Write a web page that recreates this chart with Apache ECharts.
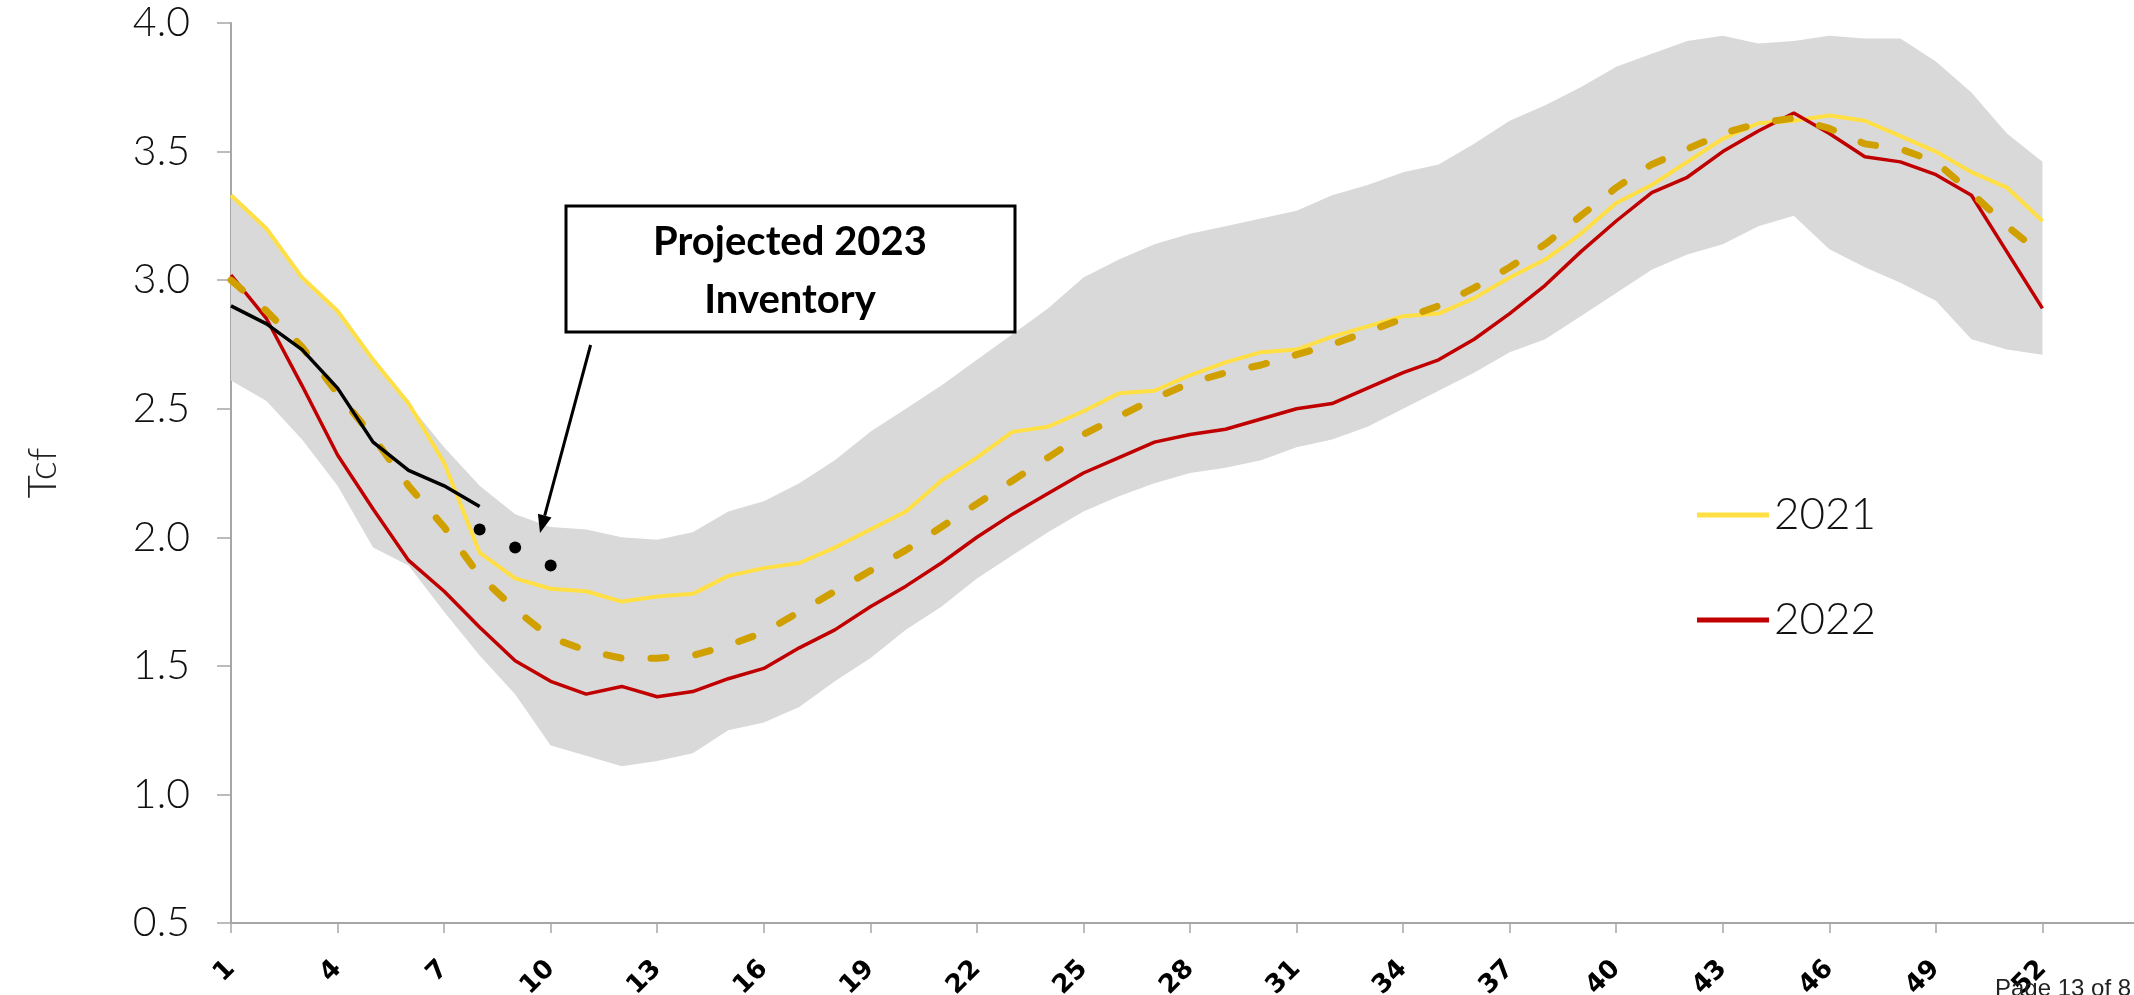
<!DOCTYPE html>
<html>
<head>
<meta charset="utf-8">
<title>Working gas in storage</title>
<script src="https://cdn.jsdelivr.net/npm/echarts@6/dist/echarts.min.js"></script>
<style>
  html, body { margin: 0; padding: 0; background: #fff; }
  #storageChart { width: 2134px; height: 995px; }
</style>
</head>
<body>
<div id="storageChart"></div>
<script>
// week of year
const weeks = [1, 2, 3, 4, 5, 6, 7, 8, 9, 10, 11, 12, 13, 14, 15, 16, 17, 18, 19, 20, 21, 22, 23, 24, 25, 26,
  27, 28, 29, 30, 31, 32, 33, 34, 35, 36, 37, 38, 39, 40, 41, 42, 43, 44, 45, 46, 47, 48, 49, 50, 51, 52]
// the axis runs on past week 52 (off the edge of the page)
const axisWeeks = weeks.concat([53, 54, 55])

// 5-year range (grey band), Tcf
const bandLow = [2.61, 2.53, 2.38, 2.20, 1.96, 1.89, 1.71, 1.54, 1.39, 1.19, 1.15, 1.11, 1.13, 1.16, 1.25, 1.28, 1.34,
  1.44, 1.53, 1.64, 1.73, 1.84, 1.93, 2.02, 2.10, 2.16, 2.21, 2.25, 2.27, 2.30, 2.35, 2.38, 2.43, 2.50, 2.57, 2.64,
  2.72, 2.77, 2.86, 2.95, 3.04, 3.10, 3.14, 3.21, 3.25, 3.12, 3.05, 2.99, 2.92, 2.77, 2.73, 2.71]
const bandHigh = [3.33, 3.20, 3.01, 2.88, 2.69, 2.52, 2.35, 2.20, 2.09, 2.04, 2.03, 2.00, 1.99, 2.02, 2.10, 2.14, 2.21,
  2.30, 2.41, 2.50, 2.59, 2.69, 2.79, 2.89, 3.01, 3.08, 3.14, 3.18, 3.21, 3.24, 3.27, 3.33, 3.37, 3.42, 3.45, 3.53,
  3.62, 3.68, 3.75, 3.83, 3.88, 3.93, 3.95, 3.92, 3.93, 3.95, 3.94, 3.94, 3.85, 3.73, 3.57, 3.46]

// 5-year average (dashed)
const avg5yr = [3.00, 2.88, 2.74, 2.56, 2.39, 2.20, 2.04, 1.85, 1.72, 1.61, 1.56, 1.53, 1.53, 1.54, 1.58, 1.63, 1.71,
  1.79, 1.87, 1.95, 2.04, 2.13, 2.22, 2.31, 2.40, 2.47, 2.54, 2.60, 2.64, 2.67, 2.71, 2.75, 2.80, 2.85, 2.90, 2.97,
  3.05, 3.14, 3.25, 3.36, 3.45, 3.51, 3.57, 3.61, 3.63, 3.59, 3.53, 3.51, 3.46, 3.34, 3.21, 3.10]

const inv2021 = [3.33, 3.20, 3.01, 2.88, 2.69, 2.52, 2.29, 1.94, 1.84, 1.80, 1.79, 1.75, 1.77, 1.78, 1.85, 1.88, 1.90,
  1.96, 2.03, 2.10, 2.22, 2.31, 2.41, 2.43, 2.49, 2.56, 2.57, 2.63, 2.68, 2.72, 2.73, 2.78, 2.82, 2.86, 2.87, 2.93,
  3.01, 3.08, 3.18, 3.30, 3.37, 3.46, 3.55, 3.61, 3.62, 3.64, 3.62, 3.56, 3.50, 3.42, 3.36, 3.23]

const inv2022 = [3.02, 2.85, 2.59, 2.32, 2.11, 1.91, 1.79, 1.65, 1.52, 1.44, 1.39, 1.42, 1.38, 1.40, 1.45, 1.49, 1.57,
  1.64, 1.73, 1.81, 1.90, 2.00, 2.09, 2.17, 2.25, 2.31, 2.37, 2.40, 2.42, 2.46, 2.50, 2.52, 2.58, 2.64, 2.69, 2.77,
  2.87, 2.98, 3.11, 3.23, 3.34, 3.40, 3.50, 3.58, 3.65, 3.57, 3.48, 3.46, 3.41, 3.33, 3.11, 2.89]

// 2023 so far (weeks 1-8), and the projected weeks 8-10
const inv2023 = [2.90, 2.83, 2.73, 2.58, 2.37, 2.26, 2.20, 2.12]
const projWeeks = [8, 9, 10]
const proj2023 = [2.03, 1.96, 1.89]

const yTicks = [0.5, 1.0, 1.5, 2.0, 2.5, 3.0, 3.5, 4.0]

const bandSpan = bandHigh.map((v, i) => +(v - bandLow[i]).toFixed(2))
// projected points placed on the week categories
const projData = projWeeks.map((w, i) => [String(w), proj2023[i]])

const chartDom = document.getElementById('storageChart')
const myChart = echarts.init(chartDom)

const option = {
  animation: false,
  backgroundColor: '#fff',
  grid: { left: 231, top: 23, width: 1918, height: 900, containLabel: false, outerBoundsMode: 'none' },
  legend: {
    data: ['2021', '2022'],
    orient: 'vertical',
    left: 1692,
    top: 488,
    icon: 'rect',
    itemWidth: 72,
    itemHeight: 5,
    itemGap: 61,
    textStyle: { fontFamily: 'Lato', fontWeight: 300, fontSize: 44, lineHeight: 44, color: '#111' }
  },
  xAxis: {
    type: 'category',
    data: axisWeeks.map(String),
    boundaryGap: false,
    axisLine: { lineStyle: { color: '#a6a6a6', width: 2 } },
    axisTick: { show: true, interval: 2, length: 10, lineStyle: { color: '#a6a6a6', width: 1.5 } },
    splitLine: { show: false },
    axisLabel: {
      interval: 2,
      rotate: 45,
      margin: 42,
      fontFamily: 'DejaVu Sans',
      fontWeight: 'bold',
      fontSize: 26,
      color: '#000',
      formatter: v => (+v > weeks[weeks.length - 1] ? '' : v)
    }
  },
  yAxis: {
    type: 'value',
    min: yTicks[0],
    max: yTicks[yTicks.length - 1],
    interval: 0.5,
    name: 'Tcf',
    nameLocation: 'middle',
    nameGap: 168,
    nameTextStyle: { fontFamily: 'Lato', fontWeight: 300, fontSize: 40, color: '#222' },
    axisLine: { show: true, lineStyle: { color: '#a6a6a6', width: 2 } },
    axisTick: { show: true, length: 14, lineStyle: { color: '#a6a6a6', width: 1.5 } },
    splitLine: { show: false },
    axisLabel: {
      margin: 41,
      fontFamily: 'Lato',
      fontWeight: 300,
      fontSize: 41,
      color: '#111',
      formatter: v => v.toFixed(1)
    }
  },
  series: [
    {
      name: 'rangeLow',
      type: 'line',
      stack: 'band',
      symbol: 'none',
      data: bandLow,
      lineStyle: { opacity: 0 },
      z: 1
    },
    {
      name: 'range',
      type: 'line',
      stack: 'band',
      symbol: 'none',
      data: bandSpan,
      lineStyle: { opacity: 0 },
      areaStyle: { color: '#d9d9d9', opacity: 1 },
      z: 1
    },
    {
      name: '2021',
      type: 'line',
      symbol: 'none',
      data: inv2021,
      itemStyle: { color: '#ffdf43' },
      lineStyle: { color: '#ffdf43', width: 4 },
      z: 3
    },
    {
      name: '2022',
      type: 'line',
      symbol: 'none',
      data: inv2022,
      itemStyle: { color: '#c00000' },
      lineStyle: { color: '#c00000', width: 3.5 },
      z: 4
    },
    {
      name: '5-yr avg',
      type: 'line',
      symbol: 'none',
      data: avg5yr,
      itemStyle: { color: '#d09f00' },
      lineStyle: { color: '#d09f00', width: 7, type: [15, 30], cap: 'round' },
      z: 5
    },
    {
      name: '2023',
      type: 'line',
      symbol: 'none',
      data: inv2023,
      itemStyle: { color: '#000' },
      lineStyle: { color: '#000', width: 3.5 },
      z: 6
    },
    {
      name: 'Projected 2023',
      type: 'scatter',
      symbol: 'circle',
      symbolSize: 12,
      data: projData,
      itemStyle: { color: '#000', opacity: 1 },
      z: 7
    }
  ],
  graphic: [
    {
      type: 'rect',
      shape: { x: 566, y: 206, width: 449, height: 126 },
      style: { fill: '#fff', stroke: '#000', lineWidth: 3 },
      z: 10
    },
    {
      type: 'text',
      x: 790,
      y: 242,
      style: {
        text: 'Projected 2023',
        font: 'bold 40px Lato',
        fill: '#000',
        align: 'center',
        verticalAlign: 'middle'
      },
      z: 11
    },
    {
      type: 'text',
      x: 790,
      y: 300,
      style: {
        text: 'Inventory',
        font: 'bold 40px Lato',
        fill: '#000',
        align: 'center',
        verticalAlign: 'middle'
      },
      z: 11
    },
    // arrow from the box down to the projected points
    {
      type: 'line',
      shape: { x1: 590.6, y1: 345, x2: 544.7, y2: 515.6 },
      style: { stroke: '#000', lineWidth: 3 },
      z: 10
    },
    {
      type: 'polygon',
      shape: { points: [[540, 533], [551.5, 517.4], [537.9, 513.8]] },
      style: { fill: '#000' },
      z: 10
    },
    {
      type: 'text',
      x: 1995,
      y: 977,
      style: { text: 'Page 13 of 8', font: '24px "Liberation Sans"', fill: '#222' },
      z: 10
    }
  ]
}

myChart.setOption(option)
</script>
</body>
</html>
